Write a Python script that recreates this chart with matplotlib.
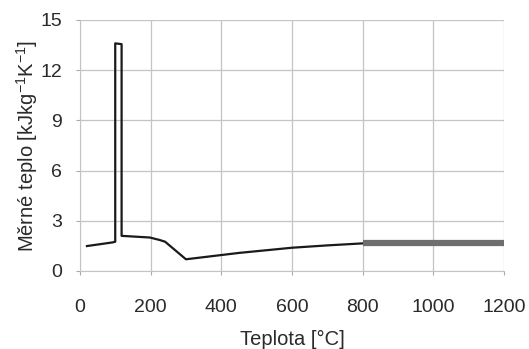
import matplotlib.pyplot as plt

# Měrné teplo betonu v závislosti na teplotě
teplota = [20, 93, 100, 100, 118, 118, 198, 226, 241, 300, 450, 600, 700, 800, 1000, 1200]
teplo = [1.49, 1.71, 1.75, 13.6, 13.55, 2.1, 2.0, 1.85, 1.75, 0.7, 1.08, 1.39, 1.53, 1.65, 1.65, 1.65]

x_ticks = [0, 200, 400, 600, 800, 1000, 1200]
y_ticks = [0, 3, 6, 9, 12, 15]

plt.rcParams['font.family'] = ['Liberation Sans', 'DejaVu Sans']
plt.rcParams['mathtext.default'] = 'regular'

fig = plt.figure(figsize=(5.29, 3.49), dpi=100)
ax = fig.add_axes([0.151, 0.2235, 0.802, 0.7195])

ax.plot(teplota, teplo, color='#1a1a1a', linewidth=1.6)
ax.plot(teplota[13:], teplo[13:], color='#6e6e6e', linewidth=4.5, solid_capstyle='butt')

ax.set_xlim(0, 1200)
ax.set_ylim(0, 15)
ax.set_xticks(x_ticks)
ax.set_yticks(y_ticks)
ax.grid(True, color='#c4c4c4', linewidth=0.9)
for side in ['top', 'right']:
    ax.spines[side].set_visible(False)
for side in ['left', 'bottom']:
    ax.spines[side].set_color('#c4c4c4')
ax.tick_params(colors='#aaaaaa', labelcolor='#2a2a2a', labelsize=14, length=3)
ax.tick_params(axis='x', pad=17)
ax.tick_params(axis='y', pad=10)

ax.set_xlabel('Teplota [°C]', fontsize=14.5, color='#2a2a2a', labelpad=10)
ax.set_ylabel('Měrné teplo [kJkg$^{-1}$K$^{-1}$]', fontsize=14.5, color='#2a2a2a', labelpad=0)

fig.savefig('out.png', dpi=100)
plt.close(fig)
